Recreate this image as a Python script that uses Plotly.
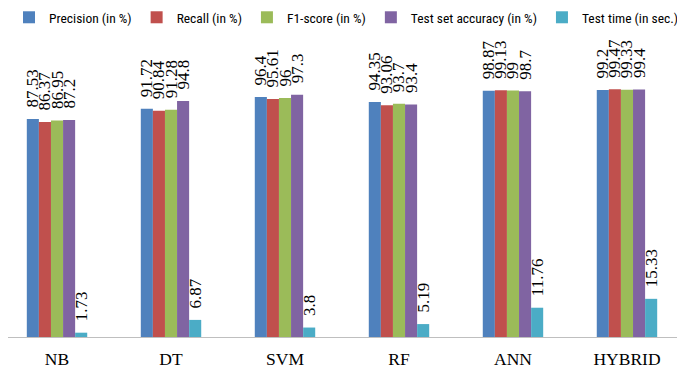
import plotly.graph_objects as go

categories = ["NB", "DT", "SVM", "RF", "ANN", "HYBRID"]
precision = [87.53, 91.72, 96.4, 94.35, 98.87, 99.2]
recall = [86.37, 90.84, 95.61, 93.06, 99.13, 99.47]
f1_score = [86.95, 91.28, 96, 93.7, 99, 99.33]
accuracy = [87.2, 94.8, 97.3, 93.4, 98.7, 99.4]
test_time = [1.73, 6.87, 3.8, 5.19, 11.76, 15.33]

series = [
    ("Precision (in %)", precision, "#4F81BD"),
    ("Recall (in %)", recall, "#C0504D"),
    ("F1-score (in %)", f1_score, "#9BBB59"),
    ("Test set accuracy (in %)", accuracy, "#8064A2"),
    ("Test time (in sec.)", test_time, "#4BACC6"),
]

fig = go.Figure()
for name, vals, color in series:
    fig.add_trace(go.Bar(
        name=name, x=categories, y=vals, marker_color=color,
        marker_line_width=0,
        text=["\u00a0\u00a0" + str(v) for v in vals], textposition="outside", textangle=-90,
        textfont=dict(family="Liberation Serif", size=17, color="black"),
        cliponaxis=False,
    ))

# the page adds an 8px body margin, so the figure is 8px smaller than the window
fig.update_layout(
    width=677, height=361,
    margin=dict(l=0, r=0, t=25, b=32, autoexpand=False),
    barmode="group", bargap=0.47, bargroupgap=0,
    plot_bgcolor="white", paper_bgcolor="white",
    uniformtext=dict(minsize=17, mode="show"),
    legend=dict(orientation="h", x=0.5, xanchor="center", y=1.0, yanchor="bottom",
                font=dict(family="Liberation Sans Narrow, Roboto Condensed, Roboto", size=13.5, color="black"),
                itemwidth=30, traceorder="normal"),
    showlegend=True,
)
fig.update_xaxes(range=[-0.43, 5.509], showline=True, linecolor="#BFBFBF", linewidth=1,
                 ticks="outside", ticklen=6, tickcolor="rgba(0,0,0,0)",
                 tickfont=dict(family="Liberation Serif", size=17.5, color="black"))
fig.update_yaxes(range=[0, 122.1], visible=False, showgrid=False, zeroline=False)

fig.write_html("out.html")
